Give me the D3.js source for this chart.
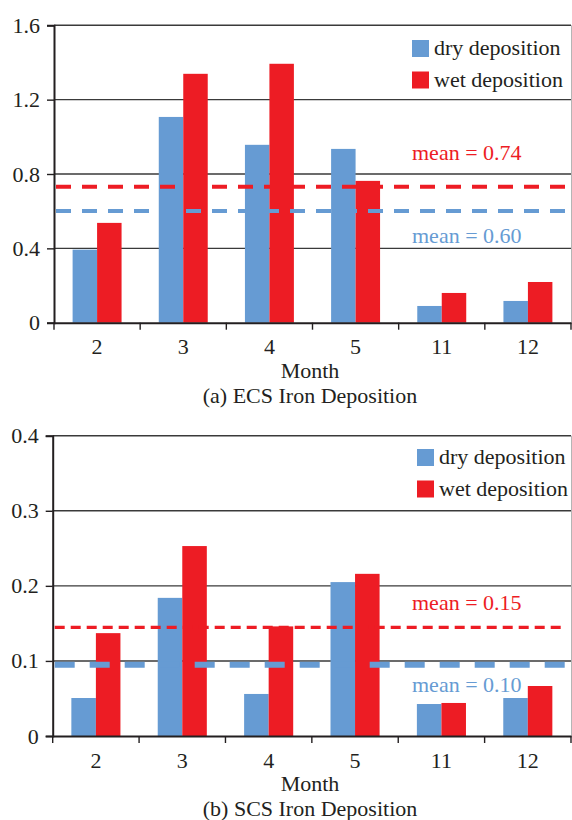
<!DOCTYPE html>
<html lang="en">
  <head>
    <meta charset="UTF-8" />
    <script src="https://d3js.org/d3.v7.min.js"></script>
    <title>Iron Deposition</title>
    <style>
      body { margin: 0; background: #fff; }
      text { font-family: 'Liberation Serif', 'Times New Roman', serif; font-size: 22px; fill: #231f20; }
    </style>
  </head>
  <body>
    <div id="my_dataviz"></div>
    <script>
      // month categories (x axis)
      const months = ['2', '3', '4', '5', '11', '12']
      const seriesNames = ['dry deposition', 'wet deposition']

      // (a) ECS values
      const ecsDry = [0.393, 1.107, 0.957, 0.935, 0.09, 0.117]
      const ecsWet = [0.537, 1.339, 1.393, 0.763, 0.16, 0.219]
      const ecsMeans = [0.601, 0.732]
      const ecsMeanLabels = ['mean = 0.60', 'mean = 0.74']
      const ecsTicks = [0, 0.4, 0.8, 1.2, 1.6]

      // (b) SCS values
      const scsDry = [0.0506, 0.184, 0.056, 0.205, 0.0426, 0.0506]
      const scsWet = [0.137, 0.253, 0.146, 0.216, 0.044, 0.0666]
      const scsMeans = [0.095, 0.1447]
      const scsMeanLabels = ['mean = 0.10', 'mean = 0.15']
      const scsTicks = [0, 0.1, 0.2, 0.3, 0.4]

      const colors = ['#669bd3', '#ed1c24']

      const svg = d3
        .select('#my_dataviz')
        .append('svg')
        .attr('width', 572)
        .attr('height', 820)

      function drawPanel(p) {
        const g = svg.append('g')

        const x = d3.scaleBand().domain(months).range([p.left, p.right])
        const inner = d3
          .scaleBand()
          .domain([0, 1])
          .range([0, x.bandwidth()])
          .paddingOuter(0.76)
        const y = d3.scaleLinear().domain(p.domain).range([p.bottom, p.top])

        // grid lines
        g.append('g')
          .selectAll('line')
          .data(p.ticks.slice(1))
          .join('line')
          .attr('x1', p.left)
          .attr('x2', p.right)
          .attr('y1', d => y(d))
          .attr('y2', d => y(d))
          .attr('stroke', '#3a3a3a')
          .attr('stroke-width', 1.4)

        // right border
        g.append('line')
          .attr('x1', p.right + 0.5)
          .attr('x2', p.right + 0.5)
          .attr('y1', p.top)
          .attr('y2', p.bottom)
          .attr('stroke', '#b5b5b5')
          .attr('stroke-width', 1)

        // bars
        const series = [p.dry, p.wet]
        series.forEach((vals, si) => {
          g.append('g')
            .selectAll('rect')
            .data(vals)
            .join('rect')
            .attr('x', (d, i) => x(months[i]) + inner(si))
            .attr('width', inner.bandwidth())
            .attr('y', d => y(d))
            .attr('height', d => y(0) - y(d))
            .attr('fill', colors[si])
        })

        // y axis
        const yAxis = g
          .append('g')
          .attr('transform', `translate(${p.left}, 0)`)
          .call(d3.axisLeft(y).tickValues(p.ticks).tickSize(7).tickPadding(7).tickFormat(d => d))
        yAxis.select('.domain').attr('stroke', '#231f20').attr('stroke-width', 2)
        yAxis.selectAll('.tick line').attr('stroke', '#231f20').attr('stroke-width', 1.4)
        yAxis.selectAll('text').attr('font-size', null).attr('font-family', null).attr('fill', null)
        yAxis.attr('font-size', null).attr('font-family', null)

        // x axis
        const xAxis = g
          .append('g')
          .attr('transform', `translate(0, ${p.bottom})`)
          .call(d3.axisBottom(x).tickSize(0).tickPadding(16))
        xAxis.select('.domain').attr('stroke', '#231f20').attr('stroke-width', 2)
        xAxis.selectAll('text').attr('font-size', null).attr('font-family', null).attr('fill', null)
        xAxis.attr('font-size', null).attr('font-family', null)
        xAxis.selectAll('.boundary')
          .data(d3.range(months.length + 1))
          .join('line')
          .attr('x1', i => p.left + i * x.step())
          .attr('x2', i => p.left + i * x.step())
          .attr('y1', 0)
          .attr('y2', 7)
          .attr('stroke', '#231f20')
          .attr('stroke-width', 1.4)

        // mean lines and labels
        p.means.forEach((m, si) => {
          g.append('line')
            .attr('x1', p.left + 2)
            .attr('x2', p.right - 5)
            .attr('y1', y(m))
            .attr('y2', y(m))
            .attr('stroke', colors[si])
            .attr('stroke-width', p.dashWidth[si])
            .attr('stroke-dasharray', p.dash[si])
          g.append('text')
            .attr('x', 412)
            .attr('y', y(m) + p.labelOffset[si])
            .style('fill', colors[si])
            .text(p.meanLabels[si])
        })

        // legend
        const legend = g
          .append('g')
          .selectAll('g')
          .data(seriesNames)
          .join('g')
          .attr('transform', (d, i) => `translate(${p.legendX}, ${p.legendY + i * 31.5})`)
        legend
          .append('rect')
          .attr('width', 17)
          .attr('height', 17)
          .attr('y', -15)
          .attr('fill', (d, i) => colors[i])
        legend
          .append('text')
          .attr('x', 22)
          .text(d => d)

        // axis title and caption
        g.append('text')
          .attr('x', 310)
          .attr('y', p.bottom + 55)
          .attr('text-anchor', 'middle')
          .text('Month')
        g.append('text')
          .attr('x', 310)
          .attr('y', p.bottom + 80)
          .attr('text-anchor', 'middle')
          .text(p.caption)
      }

      drawPanel({
        left: 54, right: 571, top: 25.3, bottom: 322.7,
        domain: [0, 1.6], ticks: ecsTicks,
        dry: ecsDry, wet: ecsWet, means: ecsMeans, meanLabels: ecsMeanLabels,
        dash: ['15 11', '15 11'], dashWidth: [4, 4], labelOffset: [32, -27],
        legendX: 412, legendY: 55, caption: '(a) ECS Iron Deposition'
      })

      drawPanel({
        left: 52.7, right: 571, top: 435.7, bottom: 736,
        domain: [0, 0.4], ticks: scsTicks,
        dry: scsDry, wet: scsWet, means: scsMeans, meanLabels: scsMeanLabels,
        dash: ['20 15', '10 6'], dashWidth: [6, 3.3], labelOffset: [27, -17],
        legendX: 417, legendY: 464, caption: '(b) SCS Iron Deposition'
      })
    </script>
  </body>
</html>
